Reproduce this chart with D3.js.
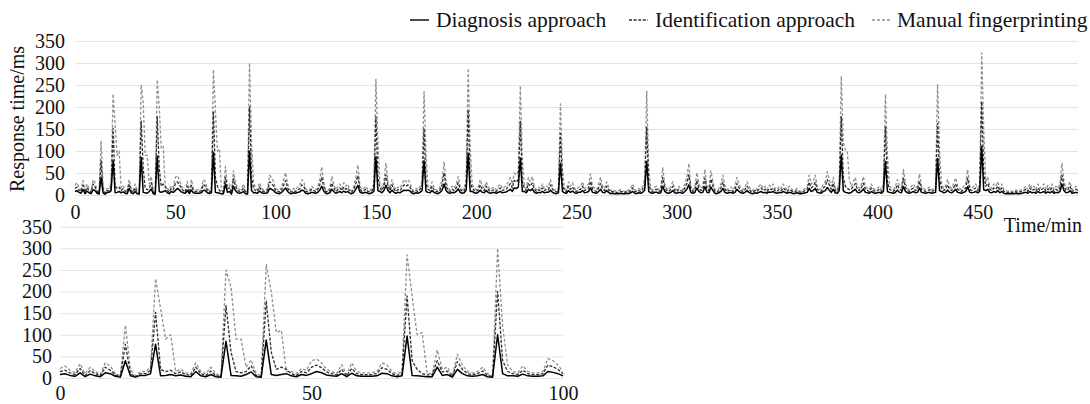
<!DOCTYPE html>
<html>
<head>
<meta charset="utf-8">
<script src="https://cdn.jsdelivr.net/npm/d3@7"></script>
<style>
  body { margin: 0; background: #fff; }
</style>
</head>
<body>
<div id="chart"></div>
<script>
// response time per minute, 0..500
var diagnosis = [
  8,10,6,4,12,3,9,5,3,12, 10,4,2,40,5,2,6,6,10,78, 5,6,8,5,7,4,3,15,5,3, 8,3,2,85,6,5,4,8,14,3,
  2,88,8,6,8,10,5,3,8,6, 10,15,12,7,5,4,10,3,11,5, 4,4,4,5,11,10,5,3,5,97, 6,5,4,3,3,25,6,8,2,20,
  10,5,4,5,8,3,2,100,10,5, 5,4,9,5,4,4,5,15,13,10,
  5,4,3,6,11,16,8,4,3,5, 4,6,7,11,10,4,3,4,6,5, 4,6,11,20,9,4,3,5,13,8, 4,6,8,5,9,6,8,4,3,6,
  13,22,7,4,5,6,4,3,5,8, 87,10,8,5,10,22,10,5,11,6, 4,6,5,8,11,10,11,9,4,3, 5,4,6,10,78,8,6,5,10,6,
  4,3,6,11,25,10,5,4,6,5, 8,14,6,4,5,11,95,8,8,5,
  4,6,11,6,5,10,6,4,5,6, 4,6,8,5,6,7,10,13,8,16, 15,18,84,8,8,5,13,10,14,6, 4,6,5,8,5,6,6,11,6,4,
  3,5,72,8,5,4,10,6,9,5, 4,6,6,10,5,6,8,16,6,5, 4,8,13,6,5,10,6,3,4,3, 3,3,4,3,3,4,3,5,8,4,
  3,5,4,6,11,76,8,5,4,6, 6,4,5,20,8,5,4,6,10,5,
  4,6,5,4,8,13,23,6,4,6, 16,8,5,6,19,6,5,18,10,4, 3,5,8,15,6,4,5,6,4,6, 13,8,5,4,6,10,6,4,3,5,
  4,6,8,5,6,4,7,6,8,5, 4,6,5,8,6,4,6,5,3,4, 5,3,3,4,5,6,15,8,10,15, 6,5,4,8,10,17,11,6,13,5,
  4,10,91,10,6,5,4,6,10,13, 6,5,8,14,6,5,4,8,5,4,
  5,6,4,8,76,8,6,5,4,6, 11,6,5,19,8,5,4,6,8,5, 6,16,6,5,4,5,6,4,5,6, 83,10,8,5,6,11,6,5,8,13,
  6,5,4,6,8,19,6,5,6,8, 5,8,110,12,10,13,6,5,8,6, 10,5,8,4,3,3,3,3,3,4, 3,3,4,5,6,4,8,5,6,4,
  8,5,6,8,4,7,5,8,4,6, 5,8,25,10,5,6,10,4,5,6, 5
];
var identification = [
  15,18,12,8,22,6,17,10,5,25, 18,7,3,78,10,3,10,10,18,152, 20,15,18,10,14,8,6,25,10,6, 16,6,3,168,60,15,12,15,28,6,
  3,178,60,20,25,20,10,6,15,12, 25,30,24,14,10,7,20,5,22,10, 8,8,8,10,24,20,10,6,10,190, 40,20,10,7,7,40,14,16,3,38,
  20,10,8,10,16,6,3,200,40,15, 10,8,18,10,8,8,10,30,26,20,
  10,8,7,12,23,33,16,8,7,10, 8,12,14,23,20,9,7,8,13,10, 8,12,23,40,18,8,7,10,27,16, 8,12,16,10,18,13,16,8,7,13,
  26,44,14,8,10,13,8,7,10,16, 178,40,16,10,20,46,20,10,23,13, 8,12,10,16,23,20,23,18,8,7, 10,8,13,20,152,25,13,10,20,12,
  8,7,12,23,50,20,10,8,13,10, 16,28,13,8,10,23,193,30,16,10,
  8,12,23,13,10,20,13,8,10,12, 8,13,16,10,12,14,20,26,16,33, 29,36,167,30,16,10,26,20,27,13, 8,12,10,16,10,13,12,23,13,8,
  7,10,140,25,10,8,20,13,18,10, 8,12,13,20,10,13,16,31,13,10, 8,16,26,13,10,20,12,7,8,7, 5,7,8,7,5,8,7,10,16,8,
  7,10,8,13,23,155,25,10,8,12, 13,8,10,40,16,10,8,13,20,10,
  8,13,10,8,16,26,46,13,8,12, 33,16,10,13,38,13,10,36,20,8, 7,10,16,29,13,8,10,12,8,13, 26,16,10,8,12,20,13,8,7,10,
  8,13,16,10,13,8,14,12,16,10, 8,13,10,16,12,8,13,10,7,8, 10,7,5,8,10,13,29,16,20,29, 13,10,8,16,20,35,23,13,26,10,
  8,20,178,40,20,15,12,13,20,26, 13,10,16,27,13,10,8,16,10,8,
  10,13,8,16,155,30,13,10,8,13, 23,13,10,38,16,10,8,13,16,10, 13,31,13,10,8,10,12,8,10,13, 163,35,16,10,13,23,13,10,16,25,
  13,10,8,13,16,38,13,10,13,16, 10,16,212,50,20,26,13,10,16,13, 20,10,16,8,7,5,7,5,7,8, 5,7,8,10,13,8,16,10,13,8,
  16,10,13,16,8,14,10,16,8,13, 10,16,45,20,10,13,20,8,10,13, 10
];
var manual = [
  22,28,18,12,33,10,25,15,8,35, 28,10,5,122,20,5,15,15,25,230, 160,90,100,15,20,12,10,35,15,10, 25,10,5,250,210,90,90,25,42,10,
  5,262,200,105,110,15,15,10,22,18, 40,44,35,20,15,10,31,8,35,15, 12,12,12,15,35,30,15,10,15,285, 190,100,105,10,10,65,20,25,5,55,
  30,15,12,15,25,10,5,300,120,30, 15,12,28,15,12,12,15,45,40,30,
  15,12,10,18,35,51,25,12,10,15, 12,18,22,35,30,14,10,12,20,15, 12,18,35,64,28,12,10,15,42,25, 12,18,25,15,28,20,25,12,10,20,
  40,68,22,12,15,20,12,10,15,25, 263,120,25,15,30,72,30,15,35,20, 12,18,15,25,35,30,35,28,12,10, 15,12,20,30,235,90,20,15,30,18,
  12,10,18,35,76,30,15,12,20,15, 25,42,20,12,15,35,288,110,25,15,
  12,18,35,20,15,30,20,12,15,18, 12,20,25,15,18,22,30,40,25,50, 45,55,248,80,25,15,40,30,42,20, 12,18,15,25,15,20,18,35,20,12,
  10,15,207,60,15,12,30,20,28,15, 12,18,20,30,15,20,25,48,20,15, 12,25,40,20,15,30,18,10,12,10, 8,10,12,10,8,12,10,15,25,12,
  10,15,12,20,35,236,60,15,12,18, 20,12,15,62,25,15,12,20,30,15,
  12,20,15,12,25,40,72,20,12,18, 51,25,15,20,58,20,15,55,30,12, 10,15,25,45,20,12,15,18,12,20, 40,25,15,12,18,30,20,12,10,15,
  12,20,25,15,20,12,22,18,25,15, 12,20,15,25,18,12,20,15,10,12, 15,10,8,12,15,20,45,25,30,45, 20,15,12,25,30,53,35,20,40,15,
  12,30,270,120,102,100,35,20,30,40, 20,15,25,42,20,15,12,25,15,12,
  15,20,12,25,229,90,20,15,12,20, 35,20,15,58,25,15,12,20,25,15, 20,48,20,15,12,15,18,12,15,20, 252,100,25,15,20,35,20,15,25,39,
  20,15,12,20,25,58,20,15,20,25, 15,25,323,150,30,40,20,15,25,20, 30,15,25,12,10,8,10,8,10,12, 8,10,12,15,20,12,25,15,20,12,
  25,15,20,25,12,22,15,25,12,20, 15,25,72,30,15,20,30,12,15,20, 15
];
var yTicks = [0, 50, 100, 150, 200, 250, 300, 350];
var topXTicks = [0, 50, 100, 150, 200, 250, 300, 350, 400, 450];
var zoomXTicks = [0, 50, 100];
var seriesNames = ["Diagnosis approach", "Identification approach", "Manual fingerprinting"];

var FONT = "'Liberation Serif', 'Times New Roman', 'DejaVu Serif', serif";
var W = 1090, H = 404;
var svg = d3.select("#chart").append("svg")
    .attr("width", W)
    .attr("height", H)
    .style("background", "#fff");

var styles = [
  { data: manual, color: "#8f8f8f", dash: "3,2", width: 1.3 },
  { data: identification, color: "#2e2e2e", dash: "3,1.6", width: 1.3 },
  { data: diagnosis, color: "#000", dash: null, width: 1.5 }
];

function panel(x, y, xTicks, n, yPad, xPad) {
  var g = svg.append("g");

  var yAxis = g.append("g")
      .attr("transform", "translate(" + x.range()[0] + ",0)")
      .call(d3.axisLeft(y).tickValues(yTicks).tickSize(-(x.range()[1] - x.range()[0])).tickPadding(yPad));
  yAxis.select(".domain").remove();
  yAxis.selectAll("line").attr("stroke", "#e4e4e4");
  yAxis.selectAll("text").style("font-size", "20px").style("font-family", FONT).attr("fill", "#111");

  var xAxis = g.append("g")
      .attr("transform", "translate(0," + y.range()[0] + ")")
      .call(d3.axisBottom(x).tickValues(xTicks).tickSize(0).tickPadding(xPad));
  xAxis.select(".domain").remove();
  xAxis.selectAll("text").style("font-size", "20px").style("font-family", FONT).attr("fill", "#111");

  var line = d3.line()
      .x(function (d, i) { return x(i); })
      .y(function (d) { return y(d); });

  styles.forEach(function (s) {
    g.append("path")
        .datum(s.data.slice(0, n))
        .attr("fill", "none")
        .attr("stroke", s.color)
        .attr("stroke-width", s.width)
        .attr("stroke-dasharray", s.dash)
        .attr("stroke-linejoin", "round")
        .attr("d", line);
  });
}

// top: whole run
var xTop = d3.scaleLinear().domain([0, 500]).range([75, 1078]);
var yTop = d3.scaleLinear().domain([0, 350]).range([195, 41]);
panel(xTop, yTop, topXTicks, manual.length, 10, 10);

// bottom: first 100 minutes
var xZoom = d3.scaleLinear().domain([0, 100]).range([60, 563]);
var yZoom = d3.scaleLinear().domain([0, 350]).range([378, 226.7]);
panel(xZoom, yZoom, zoomXTicks, 101, 8, 7.5);

svg.append("text")
    .attr("transform", "translate(24,119) rotate(-90)")
    .attr("text-anchor", "middle")
    .style("font-size", "20px")
    .style("font-family", FONT)
    .attr("fill", "#111")
    .text("Response time/ms");

svg.append("text")
    .attr("x", 1082)
    .attr("y", 232)
    .attr("text-anchor", "end")
    .style("font-size", "20px")
    .style("font-family", FONT)
    .attr("fill", "#111")
    .text("Time/min");

// legend
var legendX = [410, 629, 872];
var legendStyle = [styles[2], styles[1], styles[0]];
var legend = svg.selectAll(".legend")
    .data(seriesNames)
    .enter().append("g")
    .attr("class", "legend")
    .attr("transform", function (d, i) { return "translate(" + legendX[i] + ",20)"; });

legend.append("line")
    .attr("x1", 0).attr("x2", 19)
    .attr("stroke", function (d, i) { return legendStyle[i].color; })
    .attr("stroke-width", 1.4)
    .attr("stroke-dasharray", function (d, i) { return legendStyle[i].dash; });

legend.append("text")
    .attr("x", function (d, i) { return i === 2 ? 25 : 26; })
    .attr("y", 7)
    .style("font-size", "21.5px")
    .style("font-family", FONT)
    .attr("fill", "#111")
    .text(function (d) { return d; });
</script>
</body>
</html>
